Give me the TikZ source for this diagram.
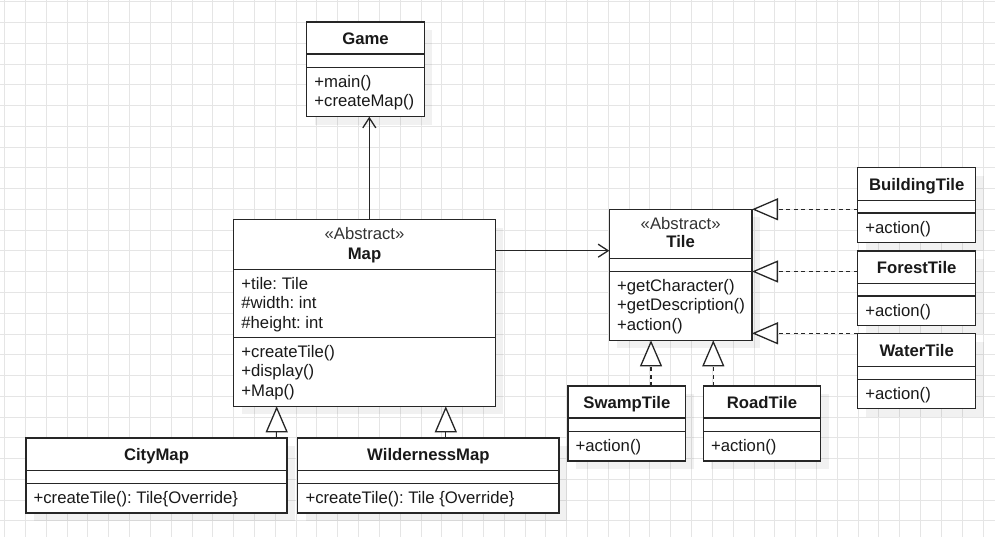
\documentclass[tikz,border=0pt]{standalone}
\usepackage{fontspec}
\setmainfont{Liberation Sans}
\usetikzlibrary{arrows.meta,shadows}
\frenchspacing
\newcommand\fs{\fontsize{16.7pt}{20pt}\selectfont}
\newcommand\umlclass[7]{%
  \node[cls, anchor=north west, minimum width={(#4-#2)*1pt}, minimum height={(#5-#3)*1pt}] (#1) at (#2,#3) {};
  \draw[sepl] (#1.west |- 0,#6) -- (#1.east |- 0,#6);
  \draw[sepl] (#1.west |- 0,#7) -- (#1.east |- 0,#7);
}
\begin{document}
\begin{tikzpicture}[x=1pt,y=-1pt,
  cls/.style={draw=black!85, line width=1.3pt, fill=white, inner sep=0pt, outer sep=0pt,
    drop shadow={shadow xshift=8pt, shadow yshift=-8pt, fill=black, opacity=0.055}},
  sepl/.style={draw=black!85, line width=1.3pt},
  ttl/.style={font=\fs\bfseries, text=black!90, inner sep=0pt, anchor=base},
  mem/.style={font=\fs, text=black!90, inner sep=0pt, anchor=base west},
  ster/.style={font=\fs, text=black!80, inner sep=0pt, anchor=base},
  gen/.style={draw=black!85, line width=1.3pt, -{Triangle[length=26pt,width=22pt,fill=white]}},
  real/.style={gen, dash pattern=on 4pt off 3.5pt},
  assoc/.style={draw=black!85, line width=1.3pt, -{Straight Barb[length=10pt,width=13pt]}},
  gridl/.style={draw=black!10, line width=1pt}]
\fill[white] (0,0) rectangle (995,537);
\useasboundingbox (0,0) rectangle (995,537);
\foreach \i in {0,...,47} \draw[gridl] ({4.7+20.815*\i},0) -- ({4.7+20.815*\i},537);
\foreach \j in {0,...,25} \draw[gridl] (0,{1.7+20.77*\j}) -- (995,{1.7+20.77*\j});

% classes
\umlclass{Game}{306.7}{22}{424.3}{116.7}{54}{67.3}
\umlclass{Map}{233.7}{219.7}{495.3}{406.3}{269.3}{337.3}
\umlclass{Tile}{609.3}{209.3}{752}{340.3}{258.7}{271.3}
\umlclass{Building}{857.7}{167.7}{975.7}{242.7}{200.3}{213}
\umlclass{Forest}{857.7}{251}{975.7}{325.7}{283.7}{296}
\umlclass{Water}{857.7}{333.7}{975.7}{408.7}{366.7}{379.7}
\umlclass{Swamp}{568}{386}{685.7}{461}{418}{431.7}
\umlclass{Road}{703.3}{386}{820.7}{461}{418}{431.7}
\umlclass{City}{25.9}{438}{287.1}{513}{470.3}{483.7}
\umlclass{Wild}{297.8}{438}{559}{513}{470.3}{483.7}

% texts
\node[ttl] (gameT) at (365.5,44.3) {Game};
\node[mem] (game1) at (314.2,87.3) {+main()};
\node[mem] (game2) at (314.2,106.8) {+createMap()};

\node[ster] (mapS) at (364.5,239.3) {«Abstract»};
\node[ttl] (mapT) at (364.5,259.3) {Map};
\node[mem] (map1) at (241.2,289.3) {+tile: Tile};
\node[mem] (map2) at (241.2,308.8) {\#width: int};
\node[mem] (map3) at (241.2,328.3) {\#height: int};
\node[mem] (map4) at (241.2,357.3) {+createTile()};
\node[mem] (map5) at (241.2,376.8) {+display()};
\node[mem] (map6) at (241.2,396.3) {+Map()};

\node[ster] (tileS) at (680.65,229.3) {«Abstract»};
\node[ttl] (tileT) at (680.65,247.7) {Tile};
\node[mem] (tile1) at (617,291.3) {+getCharacter()};
\node[mem] (tile2) at (617,310.8) {+getDescription()};
\node[mem] (tile3) at (617,330.3) {+action()};

\node[ttl] (bT) at (916.7,190.3) {BuildingTile};
\node[mem] (b1) at (865.2,233.3) {+action()};
\node[ttl] (fT) at (916.7,273.3) {ForestTile};
\node[mem] (f1) at (865.2,316.5) {+action()};
\node[ttl] (wT) at (916.7,356) {WaterTile};
\node[mem] (w1) at (865.2,399.7) {+action()};

\node[ttl] (sT) at (626.85,408.3) {SwampTile};
\node[mem] (s1) at (575.5,451.7) {+action()};
\node[ttl] (rT) at (762,408.3) {RoadTile};
\node[mem] (r1) at (710.8,451.7) {+action()};

\node[ttl] (cT) at (156.5,460.3) {CityMap};
\node[mem] (c1) at (33.4,503.7) {+createTile(): Tile\{Override\}};
\node[ttl] (wmT) at (428.4,460.3) {WildernessMap};
\node[mem] (wm1) at (305.3,503.7) {+createTile(): Tile \{Override\}};

% connectors
\draw[assoc] (Map.north -| 369.3,0) -- (Game.south -| 369.3,0);
\draw[assoc] (Map.east |- 0,250.7) -- (Tile.west |- 0,250.7);
\draw[gen] (City.north -| 276.7,0) -- (Map.south -| 276.7,0);
\draw[gen] (Wild.north -| 445.8,0) -- (Map.south -| 445.8,0);
\draw[real] (Swamp.north -| 651,0) -- (Tile.south -| 651,0);
\draw[real] (Road.north -| 713.3,0) -- (Tile.south -| 713.3,0);
\draw[real] (Building.west |- Tile.north) -- (Tile.north east);
\draw[real] (Forest.west |- 0,271.5) -- (Tile.east |- 0,271.5);
\draw[real] (Water.west |- 0,333.3) -- (Tile.east |- 0,333.3);
\end{tikzpicture}
\end{document}
